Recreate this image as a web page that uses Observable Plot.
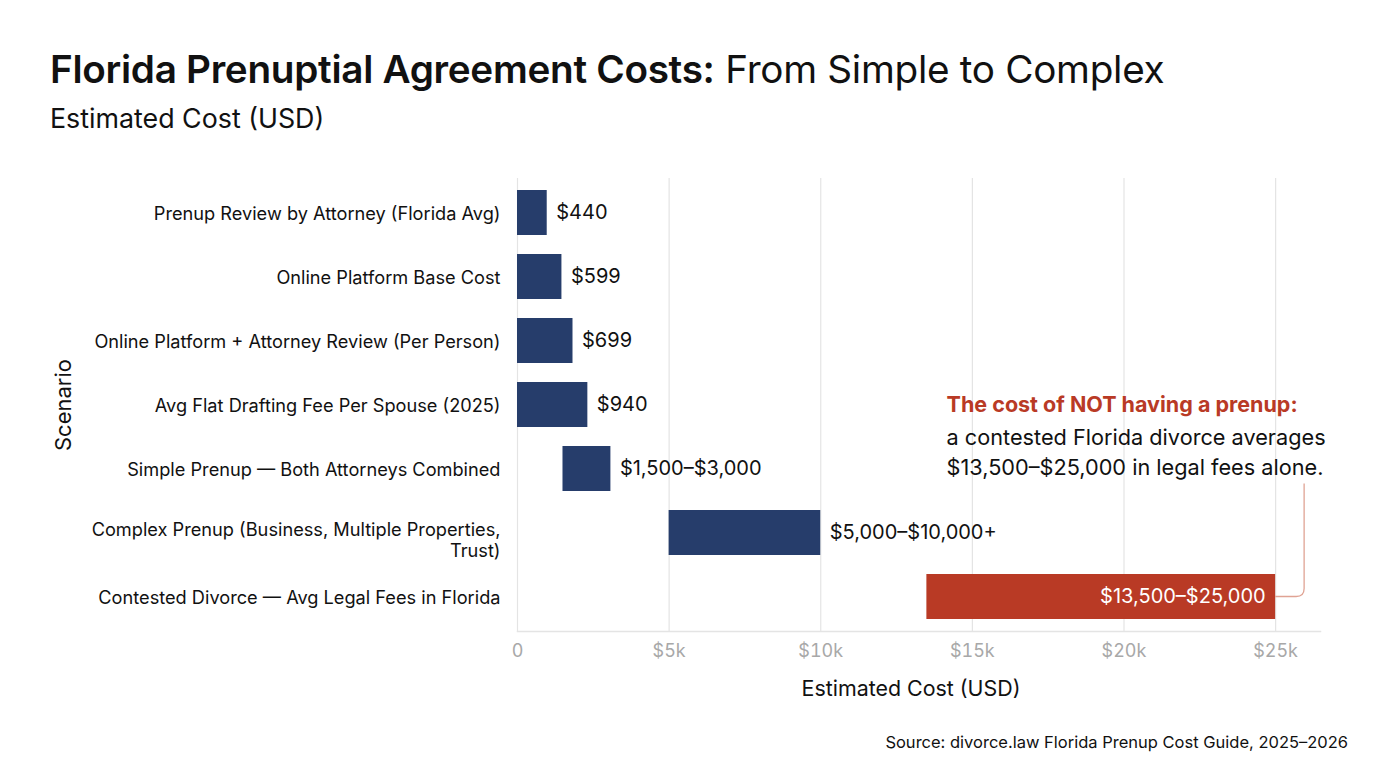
<!DOCTYPE html>
<html>
<head>
<meta charset="utf-8">
<script src="https://cdn.jsdelivr.net/npm/d3@7"></script>
<script src="https://cdn.jsdelivr.net/npm/@observablehq/plot@0.6"></script>
<style>
  html, body { margin: 0; padding: 0; background: #fff; width: 1376px; height: 768px; overflow: hidden; }
  body { font-family: Inter, Roboto, "Noto Sans", sans-serif; color: #111; position: relative; }
  #title { position: absolute; left: 50px; top: 46px; font-size: 38.7px; font-weight: 400; letter-spacing: -0.3px; white-space: nowrap; }
  #title b { font-weight: 600; }
  #subtitle { position: absolute; left: 50px; top: 102px; font-size: 26.8px; white-space: nowrap; }
  #chart { position: absolute; left: 0; top: 150px; }
  #source { position: absolute; right: 28px; top: 732px; font-size: 16.5px; white-space: nowrap; }
</style>
</head>
<body>
<div id="title"><b>Florida Prenuptial Agreement Costs:</b> From Simple to Complex</div>
<div id="subtitle">Estimated Cost (USD)</div>
<div id="chart"></div>
<div id="source">Source: divorce.law Florida Prenup Cost Guide, 2025–2026</div>
<script>
// ---- data ----
const scenarios = [
  "Prenup Review by Attorney (Florida Avg)",
  "Online Platform Base Cost",
  "Online Platform + Attorney Review (Per Person)",
  "Avg Flat Drafting Fee Per Spouse (2025)",
  "Simple Prenup — Both Attorneys Combined",
  "Complex Prenup (Business, Multiple Properties, Trust)",
  "Contested Divorce — Avg Legal Fees in Florida"
];
const barStart = [0, 0, 0, 0, 1500, 5000, 13500];
const barEnd   = [980, 1465, 1830, 2320, 3080, 10000, 25000];
const valueLabels = ["$440", "$599", "$699", "$940", "$1,500–$3,000", "$5,000–$10,000+", "$13,500–$25,000"];
const highlight = [false, false, false, false, false, false, true];
const xTicks = [0, 5000, 10000, 15000, 20000, 25000];
const xTickLabels = ["0", "$5k", "$10k", "$15k", "$20k", "$25k"];
const annotationTitle = "The cost of NOT having a prenup:";
const annotationBody = "a contested Florida divorce averages\n$13,500–$25,000 in legal fees alone.";
const annotationX = 14150;
const annotationRow = scenarios[3];

const rows = scenarios.map((s, i) => ({
  scenario: s, x1: barStart[i], x2: barEnd[i], label: valueLabels[i], hi: highlight[i]
}));

const navy = "#263d6b";
const red = "#b93a25";

const wrapLabel = d => d.startsWith("Complex Prenup") ? "Complex Prenup (Business, Multiple Properties,\nTrust)" : d;

const plot = Plot.plot({
  width: 1376,
  height: 570,
  marginLeft: 517,
  marginRight: 56,
  marginTop: 28,
  marginBottom: 89,
  style: { fontFamily: "Inter, Roboto, sans-serif", background: "transparent", overflow: "visible" },
  x: { domain: [0, 26480] },
  y: { domain: scenarios, paddingInner: 0.3, paddingOuter: 0.15 },
  marks: [
    Plot.gridX(xTicks, { stroke: "#e4e4e4", strokeOpacity: 1, strokeWidth: 1.2 }),
    Plot.frame({ anchor: "bottom", stroke: "#e4e4e4", strokeWidth: 1.5 }),
    Plot.axisX(xTicks, {
      tickSize: 0, tickPadding: 13, fontSize: 18, fill: "#a8a8a8",
      tickFormat: (d) => xTickLabels[xTicks.indexOf(d)],
      label: "Estimated Cost (USD)", labelAnchor: "center", labelArrow: "none", labelOffset: 64
    }),
    Plot.axisY({
      tickSize: 0, tickPadding: 17, fontSize: 18.2, fill: "#111", lineHeight: 1.15,
      tickFormat: wrapLabel,
      label: "Scenario", labelAnchor: "center", labelArrow: "none", labelOffset: 462
    }),
    Plot.barX(rows, { y: "scenario", x1: "x1", x2: "x2", fill: d => d.hi ? red : navy }),
    Plot.text(rows.filter(d => !d.hi), { y: "scenario", x: "x2", text: "label", textAnchor: "start", dx: 9, fontSize: 20, fill: "#111" }),
    Plot.text(rows.filter(d => d.hi), { y: "scenario", x: "x2", text: "label", textAnchor: "end", dx: -10, fontSize: 20, fill: "#fff" }),
    Plot.text([annotationTitle], { x: annotationX, y: [annotationRow], text: d => d, textAnchor: "start", fontSize: 21.5, fontWeight: 700, fill: red }),
    Plot.text([annotationBody], { x: annotationX, y: [annotationRow], text: d => d, textAnchor: "start", fontSize: 21.7, fill: "#111", lineHeight: 1.4, dy: 45 })
  ]
});

// style axis labels
d3.select(plot).selectAll("[aria-label='x-axis label'] text")
  .style("font-size", "21.4px").attr("fill", "#111").attr("dx", -8);
d3.select(plot).selectAll("[aria-label='y-axis label'] text")
  .style("font-size", "22px").attr("fill", "#111");
// nudge the wrapped tick label down slightly, as in the reference
d3.select(plot).selectAll("[aria-label='y-axis tick label'] text")
  .filter(function() { return this.textContent.startsWith("Complex"); })
  .attr("dy", "0.38em");

document.getElementById("chart").appendChild(plot);

// connector from contested bar end to annotation
const xs = plot.scale("x"), ys = plot.scale("y");
const contested = rows.find(d => d.hi);
const bx = xs.apply(contested.x2);
const by = ys.apply(contested.scenario) + ys.bandwidth / 2;
const cx = bx + 29, topY = by - 113, r = 8;
d3.select(plot).append("path")
  .attr("d", `M${bx},${by} H${cx - r} Q${cx},${by} ${cx},${by - r} V${topY}`)
  .attr("fill", "none").attr("stroke", "#e0a394").attr("stroke-width", 1.3);
</script>
</body>
</html>
